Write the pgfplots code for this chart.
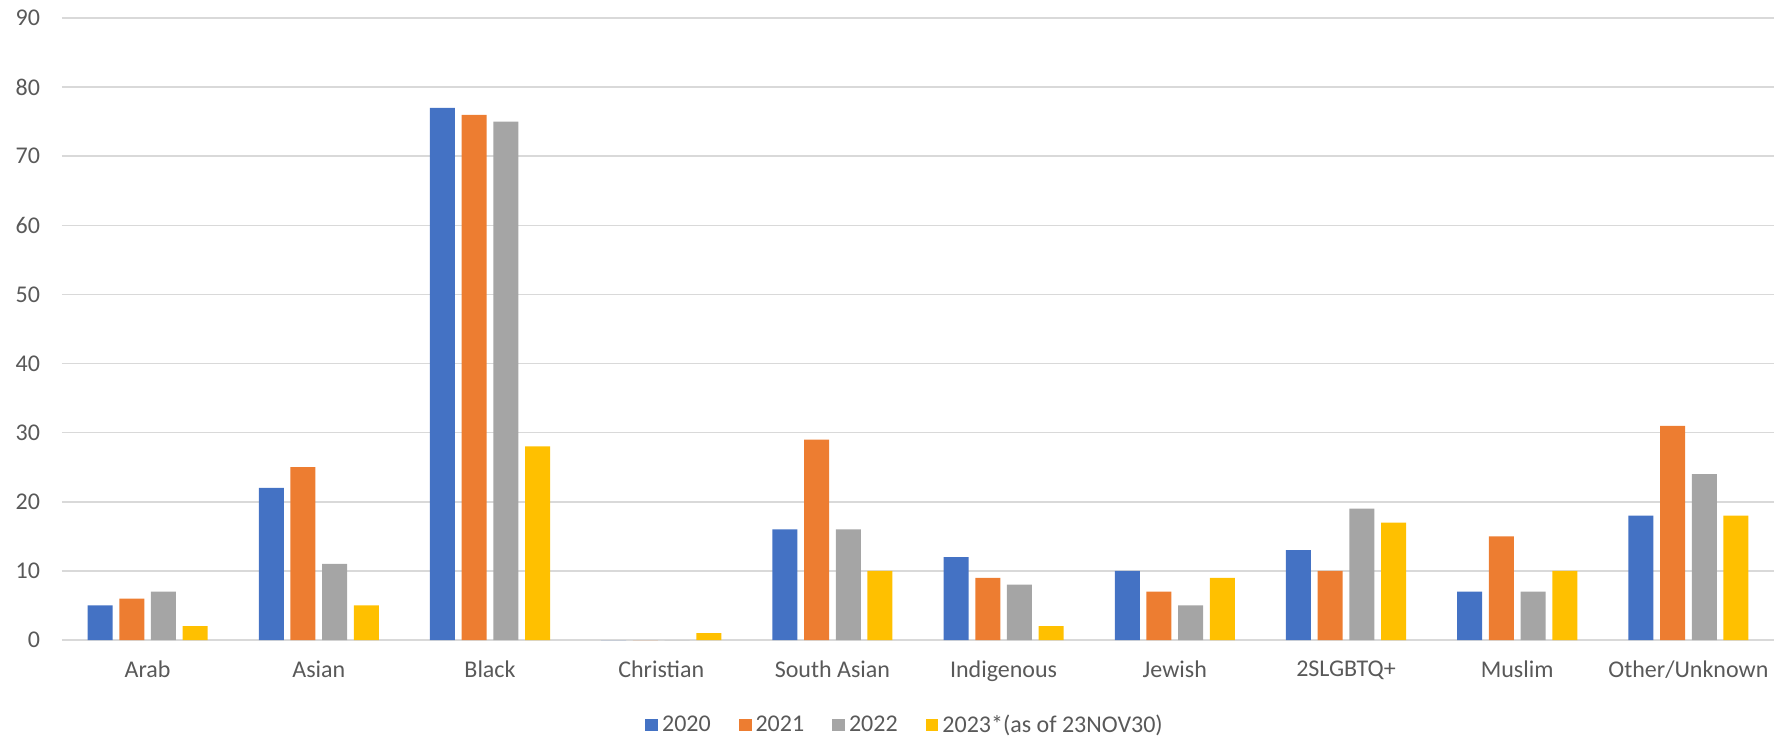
\documentclass[border=0pt]{standalone}
\usepackage{pgfplots}
\pgfplotsset{compat=1.18}
\usepackage{pgfplotstable}
\usepackage{fontspec}
\setmainfont{Carlito}

\definecolor{c20}{HTML}{4472C4}
\definecolor{c21}{HTML}{ED7D31}
\definecolor{c22}{HTML}{A5A5A5}
\definecolor{c23}{HTML}{FFC000}
\definecolor{gridc}{HTML}{D9D9D9}
\definecolor{textc}{HTML}{595959}

% x: 0=Arab ... 9=Other/Unknown
\pgfplotstableread{
x y20 y21 y22 y23
0 5 6 7 2
1 22 25 11 5
2 77 76 75 28
3 0 0 0 1
4 16 29 16 10
5 12 9 8 2
6 10 7 5 9
7 13 10 19 17
8 7 15 7 10
9 18 31 24 18
}\incidents

\begin{document}
\begin{tikzpicture}[font=\fontsize{12}{14}\selectfont]
\path[use as bounding box] (-31pt,-48pt) rectangle (856pt,320pt);
\begin{axis}[
  scale only axis,
  width=856pt, height=311pt,
  at={(0,0)}, anchor=south west,
  xmin=-0.5, xmax=9.5,
  ymin=0, ymax=90,
  ytick={0,10,...,90},
  xtick={0,...,9},
  xticklabels={Arab, Asian, Black, Christian, South Asian, Indigenous, Jewish, 2SLGBTQ+, Muslim, Other/Unknown},
  ymajorgrids,
  grid style={color=gridc, line width=0.75pt},
  axis line style={draw=none},
  major tick length=0pt,
  tick label style={color=textc},
  /pgf/number format/assume math mode=true,
  yticklabel style={xshift=-7.5pt},
  xticklabel style={yshift=-7pt},
  ybar=3.35pt,
  bar width=12.5pt,
  legend columns=4,
  legend style={at={(0.493,-0.1367)}, anchor=center, draw=none, fill=none,
    text=textc, /tikz/every even column/.append style={column sep=12pt}},
  legend image code/.code={\fill[#1] (-1pt,-3.2pt) rectangle (5.4pt,3.2pt);},
]
\addplot[fill=c20, draw=none] table[x=x, y=y20] {\incidents};
\addplot[fill=c21, draw=none] table[x=x, y=y21] {\incidents};
\addplot[fill=c22, draw=none] table[x=x, y=y22] {\incidents};
\addplot[fill=c23, draw=none] table[x=x, y=y23] {\incidents};
\legend{2020, 2021, 2022, 2023*(as of 23NOV30)}
\end{axis}
\end{tikzpicture}
\end{document}
